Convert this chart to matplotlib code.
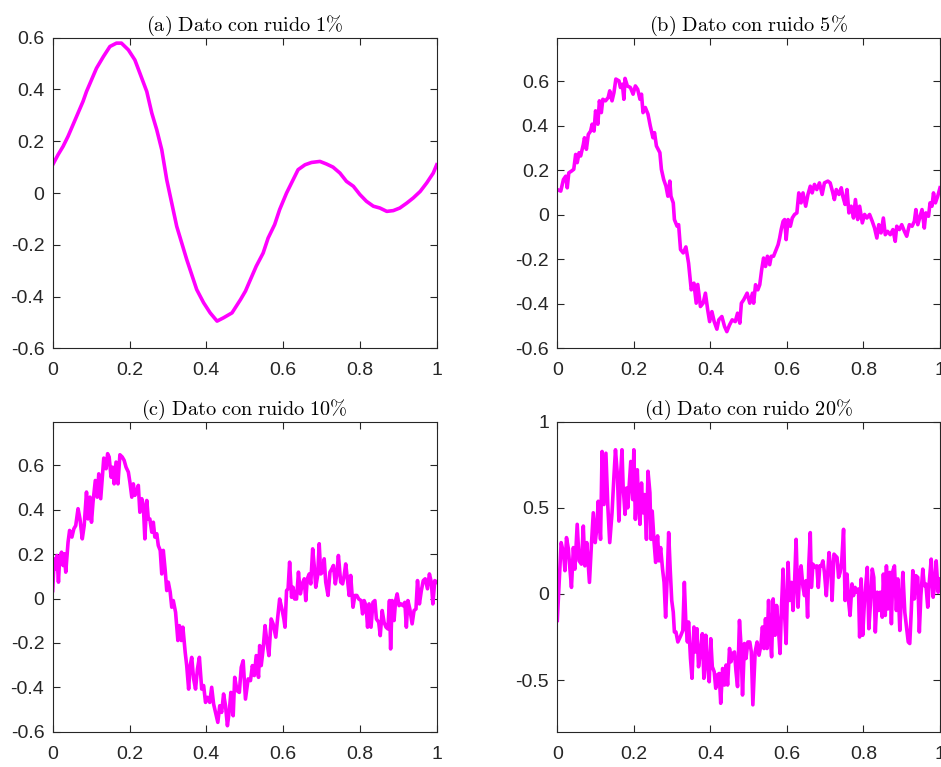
import matplotlib
matplotlib.use("Agg")
import matplotlib.pyplot as plt
from matplotlib.ticker import FuncFormatter

plt.rcParams['axes.unicode_minus'] = False
plt.rcParams['mathtext.fontset'] = 'cm'
plt.rcParams['font.family'] = ['Liberation Sans', 'DejaVu Sans']

# ---------------- data ----------------
titles = [r'$\mathrm{(a)\ Dato\ con\ ruido\ 1\%}$',
          r'$\mathrm{(b)\ Dato\ con\ ruido\ 5\%}$',
          r'$\mathrm{(c)\ Dato\ con\ ruido\ 10\%}$',
          r'$\mathrm{(d)\ Dato\ con\ ruido\ 20\%}$']

x_a = [0.0, 0.014, 0.027, 0.040, 0.053, 0.066, 0.079, 0.088, 0.101, 0.114, 0.132, 0.149, 0.166, 0.179,
       0.197, 0.214, 0.227, 0.245, 0.258, 0.271, 0.284, 0.297, 0.310, 0.323, 0.336, 0.349, 0.362, 0.375,
       0.393, 0.410, 0.428, 0.445, 0.467, 0.489, 0.502, 0.513, 0.530, 0.548, 0.561, 0.578, 0.591, 0.609,
       0.626, 0.639, 0.657, 0.674, 0.696, 0.713, 0.730, 0.748, 0.765, 0.783, 0.800, 0.817, 0.835, 0.852,
       0.870, 0.887, 0.904, 0.922, 0.939, 0.957, 0.974, 0.991, 1.0]
y_a = [0.109, 0.148, 0.180, 0.219, 0.264, 0.309, 0.354, 0.392, 0.437, 0.482, 0.527, 0.566, 0.579, 0.579,
       0.553, 0.514, 0.463, 0.392, 0.309, 0.244, 0.167, 0.051, -0.039, -0.129, -0.193, -0.257, -0.315, -0.373,
       -0.424, -0.463, -0.495, -0.482, -0.463, -0.412, -0.379, -0.341, -0.283, -0.232, -0.174, -0.122, -0.064, 0.0,
       0.051, 0.090, 0.109, 0.118, 0.122, 0.112, 0.100, 0.077, 0.045, 0.026, -0.006, -0.032, -0.051, -0.058,
       -0.071, -0.068, -0.058, -0.039, -0.019, 0.006, 0.039, 0.077, 0.109]

x_b = [0.0, 0.009, 0.016, 0.022, 0.026, 0.030, 0.037, 0.043, 0.048, 0.052, 0.057, 0.061, 0.068, 0.071,
       0.076, 0.081, 0.087, 0.091, 0.096, 0.100, 0.106, 0.110, 0.115, 0.119, 0.126, 0.133, 0.137, 0.143,
       0.148, 0.153, 0.161, 0.165, 0.170, 0.174, 0.177, 0.183, 0.191, 0.198, 0.204, 0.210, 0.216, 0.220,
       0.224, 0.230, 0.237, 0.243, 0.250, 0.254, 0.259, 0.268, 0.272, 0.278, 0.284, 0.289, 0.294, 0.297,
       0.303, 0.306, 0.313, 0.317, 0.322, 0.329, 0.336, 0.343, 0.350, 0.357, 0.363, 0.367, 0.374, 0.381,
       0.387, 0.393, 0.398, 0.404, 0.410, 0.417, 0.422, 0.430, 0.437, 0.443, 0.450, 0.457, 0.465, 0.471,
       0.477, 0.481, 0.487, 0.496, 0.503, 0.510, 0.513, 0.518, 0.524, 0.529, 0.534, 0.539, 0.544, 0.549,
       0.555, 0.559, 0.565, 0.570, 0.577, 0.581, 0.585, 0.590, 0.594, 0.598, 0.603, 0.609, 0.614, 0.620,
       0.626, 0.631, 0.637, 0.642, 0.649, 0.655, 0.661, 0.666, 0.672, 0.678, 0.685, 0.692, 0.698, 0.707,
       0.713, 0.720, 0.724, 0.729, 0.736, 0.742, 0.746, 0.752, 0.757, 0.762, 0.768, 0.774, 0.779, 0.785,
       0.790, 0.797, 0.803, 0.809, 0.816, 0.823, 0.829, 0.835, 0.840, 0.846, 0.852, 0.857, 0.863, 0.870,
       0.877, 0.883, 0.887, 0.894, 0.900, 0.907, 0.913, 0.920, 0.927, 0.933, 0.937, 0.942, 0.948, 0.953,
       0.959, 0.963, 0.970, 0.974, 0.979, 0.983, 0.988, 0.994, 1.0]
y_b = [0.114, 0.107, 0.159, 0.174, 0.122, 0.189, 0.197, 0.205, 0.272, 0.235, 0.280, 0.265, 0.317, 0.347,
       0.295, 0.362, 0.377, 0.408, 0.377, 0.468, 0.408, 0.513, 0.460, 0.520, 0.513, 0.528, 0.558, 0.513,
       0.550, 0.611, 0.603, 0.573, 0.588, 0.520, 0.614, 0.580, 0.573, 0.543, 0.580, 0.565, 0.520, 0.543,
       0.460, 0.483, 0.453, 0.400, 0.347, 0.370, 0.310, 0.280, 0.205, 0.159, 0.129, 0.084, 0.152, 0.084,
       0.054, -0.021, -0.051, -0.044, -0.156, -0.171, -0.144, -0.217, -0.337, -0.307, -0.397, -0.313, -0.412, -0.397,
       -0.352, -0.427, -0.480, -0.435, -0.480, -0.514, -0.472, -0.457, -0.502, -0.525, -0.495, -0.472, -0.480, -0.442,
       -0.487, -0.397, -0.382, -0.352, -0.397, -0.352, -0.397, -0.314, -0.337, -0.314, -0.247, -0.194, -0.232, -0.186,
       -0.224, -0.186, -0.186, -0.164, -0.134, -0.104, -0.066, -0.029, -0.021, -0.111, -0.021, -0.051, -0.014, 0.002,
       0.009, 0.099, 0.054, 0.099, 0.039, 0.092, 0.129, 0.099, 0.137, 0.114, 0.144, 0.092, 0.144, 0.152,
       0.144, 0.099, 0.069, 0.114, 0.092, 0.122, 0.084, 0.047, 0.114, 0.009, 0.039, -0.014, 0.069, -0.021,
       0.039, -0.036, 0.002, -0.014, 0.002, -0.029, -0.059, -0.104, -0.044, -0.081, -0.014, -0.089, -0.074, -0.089,
       -0.066, -0.119, -0.051, -0.066, -0.044, -0.074, -0.096, -0.044, -0.051, -0.029, 0.024, -0.044, -0.006, 0.024,
       -0.059, 0.009, -0.006, 0.054, 0.039, 0.099, 0.054, 0.084, 0.122]

x_c = [0.0, 0.004, 0.008, 0.011, 0.015, 0.018, 0.023, 0.027, 0.030, 0.034, 0.040, 0.044, 0.050, 0.055,
       0.060, 0.066, 0.071, 0.077, 0.082, 0.088, 0.092, 0.097, 0.101, 0.105, 0.111, 0.116, 0.120, 0.125,
       0.129, 0.133, 0.139, 0.143, 0.147, 0.152, 0.156, 0.160, 0.165, 0.170, 0.175, 0.181, 0.186, 0.191,
       0.197, 0.201, 0.206, 0.210, 0.214, 0.218, 0.223, 0.227, 0.232, 0.236, 0.240, 0.245, 0.249, 0.253,
       0.258, 0.262, 0.266, 0.271, 0.275, 0.280, 0.284, 0.288, 0.293, 0.297, 0.301, 0.306, 0.310, 0.314,
       0.320, 0.326, 0.330, 0.335, 0.339, 0.345, 0.349, 0.354, 0.358, 0.362, 0.367, 0.372, 0.377, 0.382,
       0.388, 0.393, 0.398, 0.403, 0.409, 0.414, 0.419, 0.424, 0.430, 0.435, 0.440, 0.445, 0.450, 0.455,
       0.460, 0.464, 0.470, 0.474, 0.480, 0.486, 0.491, 0.496, 0.502, 0.509, 0.515, 0.520, 0.525, 0.530,
       0.536, 0.539, 0.543, 0.548, 0.553, 0.558, 0.563, 0.569, 0.574, 0.581, 0.586, 0.591, 0.597, 0.602,
       0.605, 0.609, 0.613, 0.617, 0.622, 0.626, 0.630, 0.635, 0.640, 0.645, 0.650, 0.655, 0.659, 0.663,
       0.668, 0.672, 0.677, 0.681, 0.685, 0.690, 0.694, 0.698, 0.703, 0.707, 0.711, 0.717, 0.722, 0.727,
       0.731, 0.736, 0.740, 0.744, 0.750, 0.755, 0.759, 0.763, 0.768, 0.772, 0.776, 0.782, 0.787, 0.792,
       0.797, 0.803, 0.807, 0.811, 0.816, 0.820, 0.824, 0.829, 0.834, 0.839, 0.843, 0.849, 0.853, 0.858,
       0.863, 0.868, 0.873, 0.877, 0.880, 0.884, 0.889, 0.893, 0.897, 0.902, 0.907, 0.912, 0.917, 0.921,
       0.925, 0.930, 0.936, 0.941, 0.946, 0.950, 0.955, 0.960, 0.965, 0.970, 0.976, 0.981, 0.986, 0.990,
       0.995, 1.0]
y_c = [0.036, 0.179, 0.134, 0.194, 0.074, 0.179, 0.209, 0.149, 0.202, 0.119, 0.254, 0.307, 0.277, 0.314,
       0.329, 0.405, 0.359, 0.269, 0.329, 0.480, 0.359, 0.457, 0.344, 0.435, 0.532, 0.457, 0.562, 0.450,
       0.540, 0.633, 0.585, 0.653, 0.638, 0.547, 0.592, 0.517, 0.615, 0.517, 0.648, 0.638, 0.623, 0.592,
       0.570, 0.525, 0.457, 0.517, 0.465, 0.480, 0.510, 0.389, 0.450, 0.420, 0.269, 0.442, 0.359, 0.359,
       0.299, 0.344, 0.277, 0.292, 0.239, 0.217, 0.111, 0.217, 0.126, 0.036, 0.074, 0.029, -0.039, -0.009,
       -0.062, -0.189, -0.122, -0.189, -0.129, -0.242, -0.302, -0.408, -0.302, -0.265, -0.362, -0.408, -0.317, -0.265,
       -0.408, -0.392, -0.468, -0.445, -0.468, -0.400, -0.475, -0.513, -0.558, -0.483, -0.513, -0.430, -0.483, -0.573,
       -0.505, -0.423, -0.528, -0.355, -0.415, -0.423, -0.310, -0.280, -0.453, -0.362, -0.370, -0.302, -0.347,
       -0.257, -0.355, -0.212, -0.302, -0.227, -0.122, -0.197, -0.257, -0.092, -0.114, -0.174, -0.084, -0.002, -0.047,
       -0.092, -0.129, 0.036, 0.044, 0.164, 0.006, 0.051, -0.002, -0.002, 0.119, 0.021, 0.066, 0.089, -0.009,
       0.089, 0.111, 0.066, 0.224, 0.149, 0.051, 0.104, 0.247, 0.111, 0.119, 0.179, 0.074, 0.014, 0.119,
       0.134, 0.149, 0.066, 0.111, 0.194, 0.074, 0.066, 0.104, 0.156, 0.081, 0.014, 0.104, -0.039, 0.014,
       0.014, -0.002, -0.009, -0.069, -0.009, -0.032, -0.129, -0.024, -0.129, -0.017, -0.009, -0.092, -0.107, -0.167,
       -0.054, -0.107, -0.129, -0.137, -0.009, -0.227, -0.009, -0.099, -0.009, 0.021, -0.032, -0.024, -0.032, -0.017,
       -0.129, -0.009, -0.047, -0.114, -0.054, -0.047, 0.081, -0.024, 0.036, 0.081, 0.089, 0.044, 0.111, 0.074,
       -0.024, 0.081, 0.074]

x_d = [0.0, 0.004, 0.010, 0.016, 0.020, 0.024, 0.029, 0.033, 0.037, 0.042, 0.046, 0.052, 0.057, 0.063,
       0.068, 0.072, 0.077, 0.081, 0.084, 0.089, 0.094, 0.099, 0.103, 0.107, 0.113, 0.117, 0.122, 0.127,
       0.132, 0.137, 0.143, 0.148, 0.152, 0.157, 0.161, 0.165, 0.169, 0.172, 0.177, 0.181, 0.184, 0.189,
       0.192, 0.197, 0.200, 0.204, 0.209, 0.212, 0.216, 0.220, 0.224, 0.228, 0.233, 0.237, 0.242, 0.245,
       0.248, 0.253, 0.257, 0.262, 0.266, 0.270, 0.275, 0.279, 0.283, 0.288, 0.291, 0.295, 0.299, 0.303,
       0.306, 0.310, 0.315, 0.319, 0.323, 0.328, 0.332, 0.336, 0.340, 0.343, 0.348, 0.352, 0.357, 0.361,
       0.365, 0.369, 0.374, 0.379, 0.383, 0.388, 0.392, 0.397, 0.401, 0.405, 0.410, 0.414, 0.418, 0.423,
       0.427, 0.432, 0.437, 0.441, 0.445, 0.450, 0.454, 0.458, 0.463, 0.467, 0.471, 0.476, 0.480, 0.484,
       0.489, 0.493, 0.498, 0.503, 0.507, 0.511, 0.517, 0.522, 0.527, 0.532, 0.536, 0.540, 0.544, 0.548,
       0.552, 0.556, 0.560, 0.564, 0.569, 0.573, 0.577, 0.582, 0.586, 0.590, 0.594, 0.598, 0.603, 0.607,
       0.612, 0.616, 0.620, 0.624, 0.629, 0.633, 0.637, 0.642, 0.646, 0.650, 0.654, 0.657, 0.661, 0.664,
       0.668, 0.673, 0.678, 0.682, 0.686, 0.690, 0.694, 0.698, 0.703, 0.707, 0.710, 0.715, 0.718, 0.723,
       0.727, 0.731, 0.735, 0.739, 0.743, 0.748, 0.752, 0.757, 0.761, 0.765, 0.770, 0.774, 0.778, 0.783,
       0.787, 0.790, 0.794, 0.798, 0.803, 0.806, 0.810, 0.814, 0.818, 0.823, 0.827, 0.831, 0.836, 0.840,
       0.844, 0.849, 0.852, 0.857, 0.860, 0.864, 0.869, 0.873, 0.877, 0.881, 0.886, 0.890, 0.895, 0.899,
       0.903, 0.908, 0.912, 0.917, 0.921, 0.925, 0.929, 0.933, 0.937, 0.942, 0.946, 0.950, 0.955, 0.959,
       0.963, 0.968, 0.972, 0.977, 0.982, 0.986, 0.990, 0.995, 1.0]
y_d = [-0.154, 0.029, 0.298, 0.240, 0.135, 0.327, 0.260, 0.144, 0.038, 0.269, 0.144, 0.404, 0.192, 0.173,
       0.394, 0.163, 0.298, 0.163, 0.067, 0.279, 0.471, 0.298, 0.375, 0.538, 0.317, 0.827, 0.519, 0.817,
       0.510, 0.298, 0.471, 0.683, 0.837, 0.692, 0.423, 0.673, 0.837, 0.625, 0.462, 0.615, 0.500, 0.673,
       0.769, 0.548, 0.837, 0.433, 0.721, 0.548, 0.404, 0.644, 0.471, 0.577, 0.317, 0.712, 0.587, 0.317,
       0.481, 0.298, 0.183, 0.337, 0.192, 0.269, 0.144, 0.067, -0.135, 0.144, 0.356, 0.144, -0.038, -0.106,
       -0.221, -0.221, -0.279, -0.260, -0.240, -0.212, 0.067, -0.173, -0.279, -0.163, -0.375, -0.490, -0.192, -0.337,
       -0.202, -0.423, -0.337, -0.231, -0.490, -0.240, -0.413, -0.510, -0.260, -0.423, -0.452, -0.548, -0.471, -0.462,
       -0.635, -0.433, -0.529, -0.413, -0.529, -0.317, -0.394, -0.346, -0.337, -0.452, -0.538, -0.154, -0.298, -0.587,
       -0.288, -0.375, -0.279, -0.279, -0.337, -0.644, -0.337, -0.279, -0.356, -0.298, -0.192, -0.317, -0.144, -0.317,
       -0.038, -0.240, -0.365, -0.029, -0.240, -0.067, -0.173, -0.346, -0.067, 0.144, -0.125, -0.288, 0.183, -0.038,
       0.067, -0.096, 0.067, 0.317, -0.077, 0.106, 0.163, 0.038, -0.010, 0.077, -0.135, 0.163, 0.356, 0.038,
       0.173, 0.154, 0.163, 0.038, 0.163, 0.163, 0.192, 0.125, -0.010, 0.135, 0.240, 0.144, -0.038, 0.231,
       0.221, 0.212, 0.096, 0.125, 0.183, 0.375, -0.038, 0.115, -0.038, -0.125, 0.058, -0.010, 0.038, 0.010,
       0.029, -0.250, 0.087, -0.240, -0.029, 0.048, 0.154, -0.202, -0.067, 0.144, 0.096, -0.221, 0.010, -0.096,
       0.010, -0.135, 0.115, -0.125, 0.163, -0.087, 0.125, -0.173, 0.135, 0.163, -0.096, 0.087, -0.212, -0.029,
       0.125, -0.106, -0.183, -0.279, -0.288, -0.096, 0.135, -0.029, 0.106, 0.096, -0.221, -0.010, 0.144, 0.048,
       0.058, -0.077, 0.067, 0.202, -0.019, 0.048, 0.192, 0.010, 0.087]

series_x = [x_a, x_b, x_c, x_d]
series_y = [y_a, y_b, y_c, y_d]

x_ticks = [0, 0.2, 0.4, 0.6, 0.8, 1]
y_ticks = [[-0.6, -0.4, -0.2, 0, 0.2, 0.4, 0.6],
           [-0.6, -0.4, -0.2, 0, 0.2, 0.4, 0.6],
           [-0.6, -0.4, -0.2, 0, 0.2, 0.4, 0.6],
           [-0.5, 0, 0.5, 1]]
y_limits = [(-0.6, 0.6), (-0.6, 0.797), (-0.6, 0.797), (-0.8, 1.0)]

# ---------------- layout ----------------
W, H = 941, 767
fig = plt.figure(figsize=(W / 100, H / 100), dpi=100)
boxes = [(52.7, 37.7, 436.7, 348.3), (557.3, 37.7, 940.0, 348.3),
         (52.7, 421.7, 436.7, 731.7), (557.3, 421.7, 940.0, 731.7)]
fmt = FuncFormatter(lambda v, p: ('%g' % round(v, 6)))
dark = '#262626'

for i, (l, t, r, b) in enumerate(boxes):
    ax = fig.add_axes([l / W, 1 - b / H, (r - l) / W, (b - t) / H])
    n = min(len(series_x[i]), len(series_y[i]))
    ax.plot(series_x[i][:n], series_y[i][:n], color='#FF00FF', linewidth=2.6, solid_joinstyle='round')
    ax.set_xlim(0, 1)
    ax.set_ylim(*y_limits[i])
    ax.set_xticks(x_ticks)
    ax.set_yticks(y_ticks[i])
    ax.xaxis.set_major_formatter(fmt)
    ax.yaxis.set_major_formatter(fmt)
    ax.tick_params(direction='in', top=True, right=True, length=5, width=0.8,
                   labelsize=14, colors=dark, labelcolor=dark)
    ax.tick_params(axis='x', pad=10)
    ax.tick_params(axis='y', pad=6)
    for s in ax.spines.values():
        s.set_color(dark)
        s.set_linewidth(0.8)
    ax.set_title(titles[i], fontsize=14.6, pad=5, color='black')

fig.savefig('out.png', dpi=100)
